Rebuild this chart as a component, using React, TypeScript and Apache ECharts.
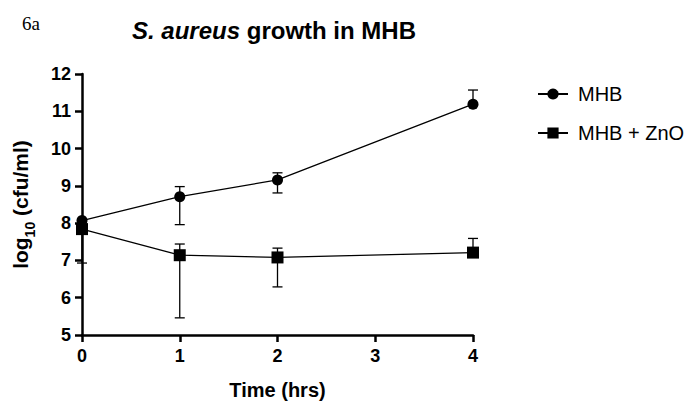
import React, { useEffect, useRef } from "react";
import * as echarts from "echarts";

const times = [0, 1, 2, 4];
const mhbValues = [8.07, 8.71, 9.16, 11.19];
const znoValues = [7.84, 7.14, 7.08, 7.21];
// error bars: [time, low, high]
const mhbErrors = [
  [0, 8.02, 8.12],
  [1, 7.96, 8.98],
  [2, 8.81, 9.35],
  [4, 11.19, 11.57],
];
const znoErrors = [
  [0, 6.93, 7.9],
  [1, 5.46, 7.44],
  [2, 6.29, 7.33],
  [4, 7.21, 7.59],
];
const seriesNames = ["MHB", "MHB + ZnO"];

const FONT = "Liberation Sans, Arial, Helvetica, sans-serif";

function errorSeries(data: number[][], name: string) {
  return {
    type: "custom",
    name: name + "-err",
    z: 1,
    silent: true,
    data,
    renderItem: (params: any, api: any) => {
      const x = api.value(0);
      const lo = api.coord([x, api.value(1)]);
      const hi = api.coord([x, api.value(2)]);
      const cw = 5;
      const style = { stroke: "#000", lineWidth: 1.3 };
      return {
        type: "group",
        children: [
          { type: "line", shape: { x1: lo[0], y1: lo[1], x2: hi[0], y2: hi[1] }, style },
          { type: "line", shape: { x1: lo[0] - cw, y1: lo[1], x2: lo[0] + cw, y2: lo[1] }, style },
          { type: "line", shape: { x1: hi[0] - cw, y1: hi[1], x2: hi[0] + cw, y2: hi[1] }, style },
        ],
      };
    },
  };
}

export default function App() {
  const ref = useRef<HTMLDivElement>(null);
  useEffect(() => {
    if (!ref.current) return;
    const chart = echarts.init(ref.current, null, { renderer: "svg" });
    chart.setOption({
      animation: false,
      backgroundColor: "#fff",
      title: {
        text: "{i|S. aureus}{b| growth in MHB}",
        left: 127,
        top: 13,
        textStyle: {
          fontFamily: FONT,
          fontSize: 24,
          fontWeight: "bold",
          color: "#000",
          rich: {
            i: { fontFamily: FONT, fontSize: 24, fontWeight: "bold", fontStyle: "italic", color: "#000" },
            b: { fontFamily: FONT, fontSize: 24, fontWeight: "bold", color: "#000" },
          },
        },
      },
      graphic: [
        {
          type: "text",
          left: 22,
          top: 14,
          style: { text: "6a", font: "19px 'Liberation Serif', 'Times New Roman', serif", fill: "#000" },
        },
      ],
      legend: {
        orient: "vertical",
        left: 532,
        top: 79,
        itemWidth: 30,
        itemHeight: 14,
        itemGap: 19,
        data: seriesNames,
        textStyle: { fontFamily: FONT, fontSize: 20, color: "#000", padding: [0, 0, 0, 5] },
      },
      grid: { left: 82, right: 215, top: 74, bottom: 67, containLabel: false, outerBoundsMode: "none" },
      xAxis: {
        type: "value",
        min: 0,
        max: 4,
        interval: 1,
        name: "Time (hrs)",
        nameLocation: "middle",
        nameGap: 45,
        nameTextStyle: { fontFamily: FONT, fontSize: 20, fontWeight: "bold", color: "#000" },
        axisLine: { lineStyle: { color: "#000", width: 2.5 } },
        axisTick: { show: true, length: 7, lineStyle: { color: "#000", width: 2.5 } },
        axisLabel: { fontFamily: FONT, fontSize: 18, fontWeight: "bold", color: "#000", margin: 12 },
        splitLine: { show: false },
      },
      yAxis: {
        type: "value",
        min: 5,
        max: 12,
        interval: 1,
        name: "{b|log}{s|10}{b| (cfu/ml)}",
        nameLocation: "middle",
        nameGap: 51,
        nameTextStyle: {
          fontFamily: FONT,
          fontSize: 21,
          fontWeight: "bold",
          color: "#000",
          rich: {
            b: { fontFamily: FONT, fontSize: 21, fontWeight: "bold", color: "#000", verticalAlign: "bottom", lineHeight: 23 },
            s: { fontFamily: FONT, fontSize: 14, fontWeight: "bold", color: "#000", verticalAlign: "bottom", lineHeight: 23, padding: [0, 0, -6, 0] },
          },
        },
        axisLine: { show: true, lineStyle: { color: "#000", width: 2.5 } },
        axisTick: { show: true, length: 7, lineStyle: { color: "#000", width: 2.5 } },
        axisLabel: { fontFamily: FONT, fontSize: 18, fontWeight: "bold", color: "#000", margin: 11 },
        splitLine: { show: false },
      },
      series: [
        errorSeries(mhbErrors, seriesNames[0]),
        errorSeries(znoErrors, seriesNames[1]),
        {
          type: "line",
          name: seriesNames[0],
          z: 3,
          data: times.map((t, i) => [t, mhbValues[i]]),
          symbol: "circle",
          symbolSize: 11,
          lineStyle: { color: "#000", width: 1.3 },
          itemStyle: { color: "#000" },
        },
        {
          type: "line",
          name: seriesNames[1],
          z: 3,
          data: times.map((t, i) => [t, znoValues[i]]),
          symbol: "rect",
          symbolSize: 12,
          lineStyle: { color: "#000", width: 1.3 },
          itemStyle: { color: "#000" },
        },
      ],
    });
    return () => chart.dispose();
  }, []);
  return <div ref={ref} style={{ width: 688, height: 402, position: "absolute", left: 0, top: 0 }} />;
}
